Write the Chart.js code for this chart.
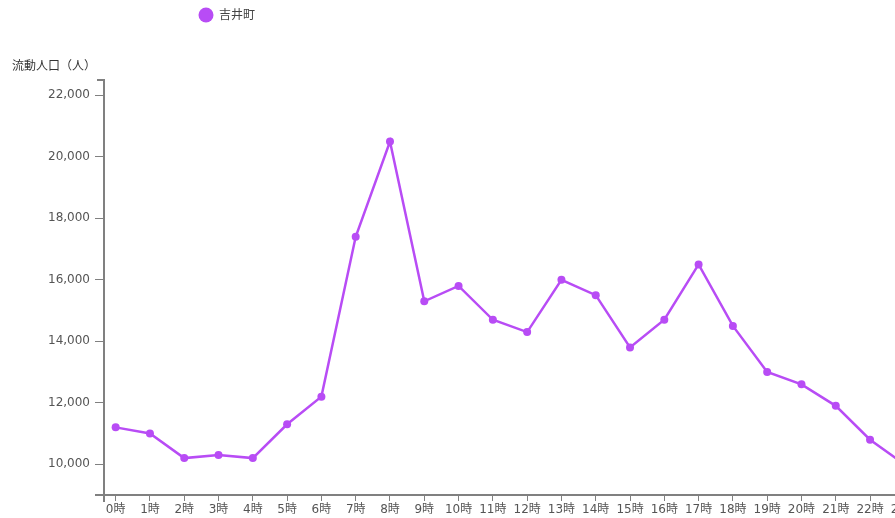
<!DOCTYPE html>
<html>
<head>
<meta charset="utf-8">
<script src="https://cdn.jsdelivr.net/npm/chart.js@4/dist/chart.umd.min.js"></script>
<style>
  html, body { margin: 0; padding: 0; background: #fff; overflow: hidden; }
  #wrap { width: 940px; height: 518px; }
</style>
</head>
<body>
<div id="wrap"><canvas id="c" width="940" height="518"></canvas></div>
<script>
// Hourly floating population of 吉井町
const hours = ['0時','1時','2時','3時','4時','5時','6時','7時','8時','9時','10時','11時',
               '12時','13時','14時','15時','16時','17時','18時','19時','20時','21時','22時','23時'];
const flow = [11200, 11000, 10200, 10300, 10200, 11300, 12200, 17400, 20500, 15300, 15800, 14700,
              14300, 16000, 15500, 13800, 14700, 16500, 14500, 13000, 12600, 11900, 10800, 10000];
const yTicks = [10000, 12000, 14000, 16000, 18000, 20000, 22000];
const seriesName = '吉井町';
const axisTitle = '流動人口（人）';

const purple = '#b84cf5';
const axisGray = '#808080';
const textGray = '#555555';
const fontFamily = "'DejaVu Sans', 'Noto Sans CJK JP', sans-serif";

// Legend swatch, y-axis caption and the outer axis ticks
const decorations = {
  id: 'decorations',
  afterDraw(chart) {
    const ctx = chart.ctx;
    const area = chart.chartArea;
    ctx.save();
    // legend
    ctx.fillStyle = purple;
    ctx.beginPath();
    ctx.arc(206, 15, 7.5, 0, Math.PI * 2);
    ctx.fill();
    ctx.fillStyle = '#444';
    ctx.font = '12px ' + fontFamily;
    ctx.textBaseline = 'middle';
    ctx.textAlign = 'left';
    ctx.fillText(seriesName, 219, 16);
    // axis caption
    ctx.fillStyle = '#333';
    ctx.fillText(axisTitle, 12, 67);
    // outer ticks at the ends of the axes
    ctx.strokeStyle = axisGray;
    ctx.lineWidth = 2;
    ctx.beginPath();
    ctx.moveTo(area.left - 7, area.top);
    ctx.lineTo(area.left, area.top);
    ctx.moveTo(area.left - 9, area.bottom);
    ctx.lineTo(area.left, area.bottom);
    ctx.moveTo(area.left, area.bottom);
    ctx.lineTo(area.left, area.bottom + 7);
    ctx.stroke();
    ctx.restore();
  }
};

new Chart(document.getElementById('c'), {
  type: 'line',
  data: {
    datasets: [{
      label: seriesName,
      data: flow.map((v, i) => ({ x: i, y: v })),
      borderColor: purple,
      backgroundColor: purple,
      borderWidth: 2.5,
      pointRadius: 4,
      pointHoverRadius: 4,
      pointBackgroundColor: purple,
      pointBorderWidth: 0,
      tension: 0,
      fill: false
    }]
  },
  options: {
    responsive: false,
    animation: false,
    devicePixelRatio: 1,
    layout: { padding: { top: 80, left: 0, right: 24, bottom: 0 } },
    plugins: {
      legend: { display: false },
      title: { display: false },
      tooltip: { enabled: false }
    },
    scales: {
      x: {
        type: 'linear',
        min: -0.34,
        max: 23.34,
        afterBuildTicks: (scale) => { scale.ticks = hours.map((_, i) => ({ value: i })); },
        afterFit: (scale) => { scale.height = 23; },
        border: { display: true, color: axisGray, width: 2 },
        grid: { drawOnChartArea: false, drawTicks: true, tickLength: 6, color: axisGray, lineWidth: 1 },
        ticks: {
          autoSkip: false,
          maxRotation: 0,
          padding: 2,
          color: textGray,
          font: { family: fontFamily, size: 12 },
          callback: (v) => hours[v]
        }
      },
      y: {
        min: 9000,
        max: 22500,
        afterBuildTicks: (scale) => { scale.ticks = yTicks.map(v => ({ value: v })); },
        afterFit: (scale) => { scale.width = 104; },
        border: { display: true, color: axisGray, width: 2 },
        grid: { drawOnChartArea: false, drawTicks: true, tickLength: 9, color: axisGray, lineWidth: 1 },
        ticks: {
          padding: 5,
          color: textGray,
          font: { family: fontFamily, size: 12 },
          callback: (v) => v.toLocaleString('en-US')
        }
      }
    }
  },
  plugins: [decorations]
});
</script>
</body>
</html>
